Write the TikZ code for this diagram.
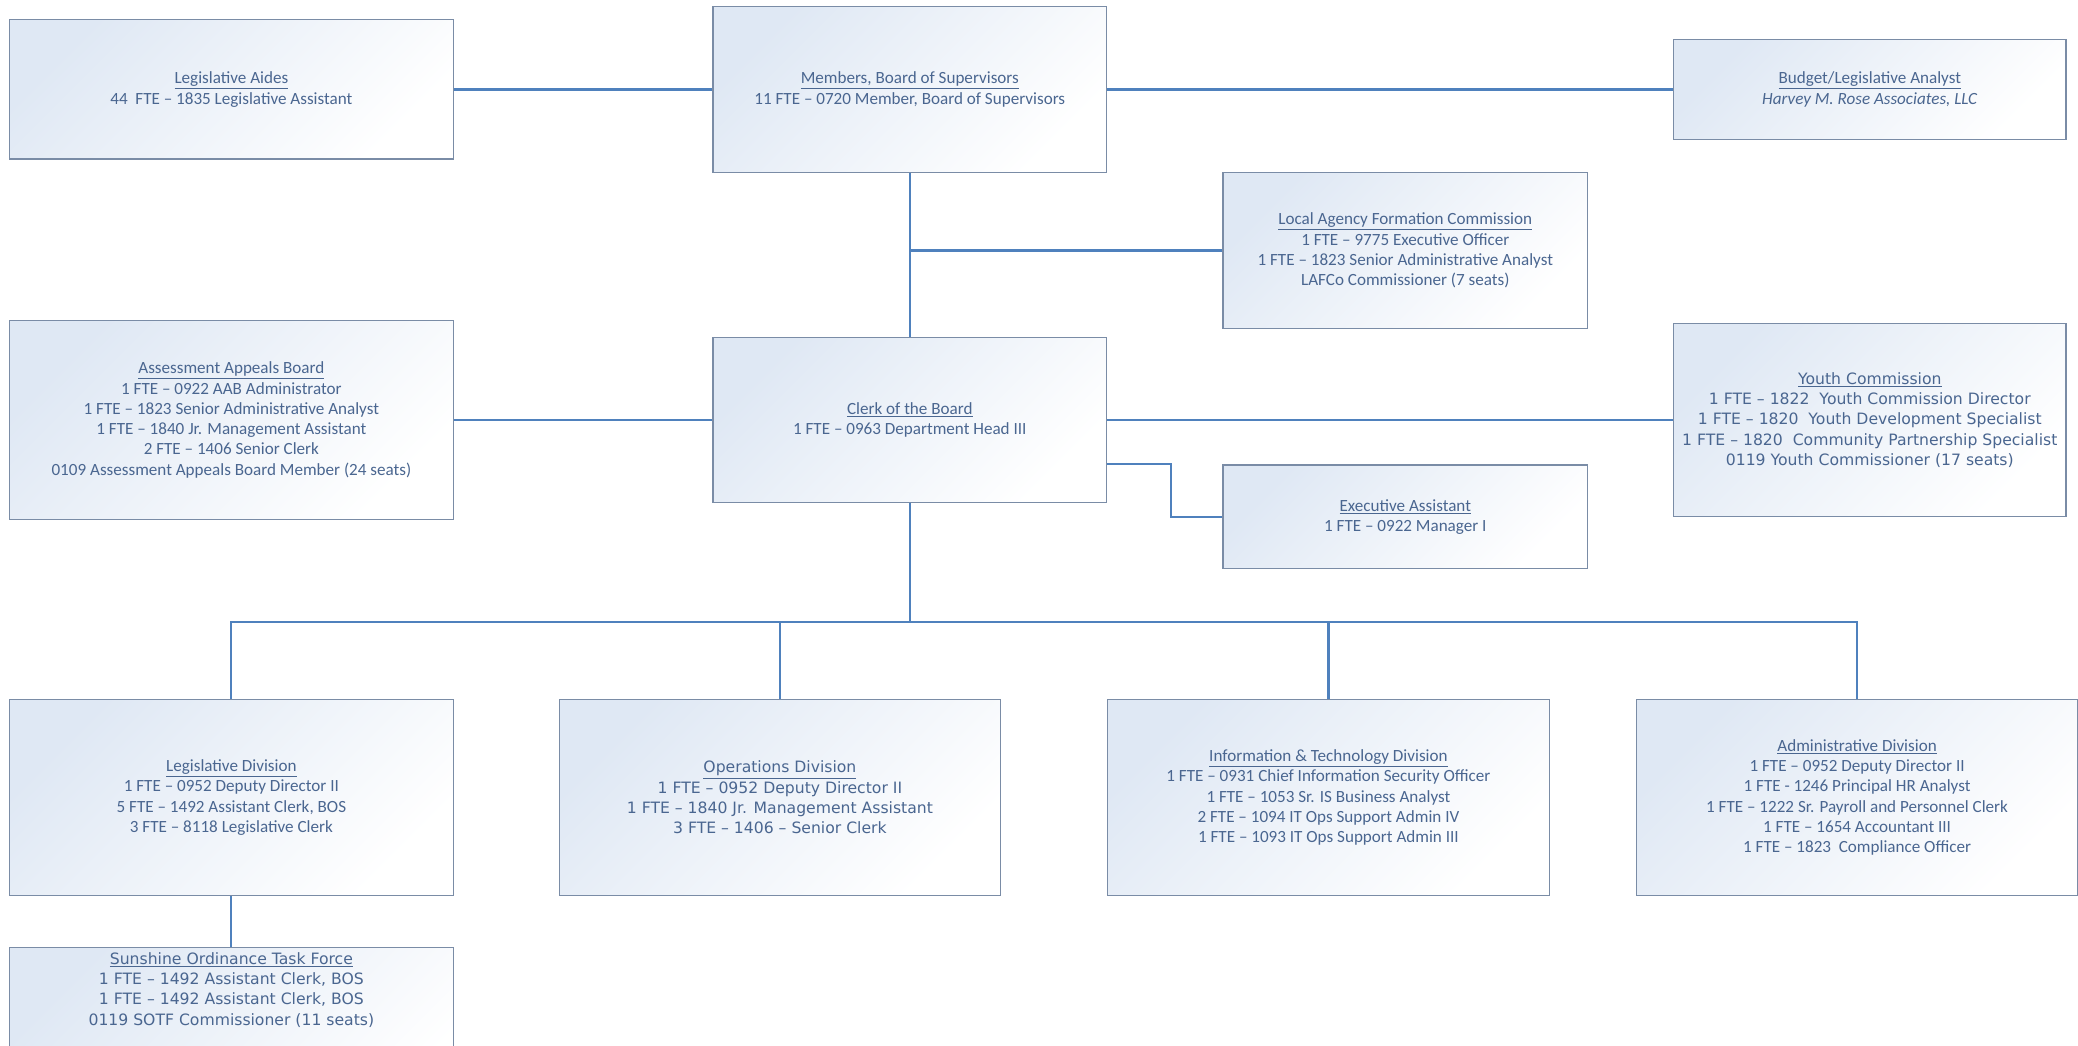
\documentclass[tikz,border=0pt]{standalone}
\usepackage{fontspec}
\setmainfont{Carlito}
\newfontfamily\verdfont{DejaVu Sans}
\usepackage{xcolor}
\usetikzlibrary{positioning}
\definecolor{boxfill}{HTML}{DFE8F4}
\definecolor{boxline}{HTML}{7A8CA6}
\definecolor{linkblue}{HTML}{4F81BD}
\definecolor{orgtext}{HTML}{4A6690}
\newcommand{\orghead}[1]{\underline{#1}}

\begin{document}
\begin{tikzpicture}[
    x=1pt, y=-1pt,
    box/.style={draw=boxline, line width=0.9pt, top color=boxfill, bottom color=white, shading angle=45,
        align=center, text=orgtext, font=\fontsize{12.9}{15.3}\selectfont, inner sep=3pt},
    wide/.style={font=\verdfont\fontsize{11.8}{15.3}\selectfont},
    link/.style={draw=linkblue, line width=1.6pt}]
\clip (0,0) rectangle (1568,789);
% top row
\node[box, minimum width=297, minimum height=125] (members) at (686.5,67.5) {\orghead{Members, Board of Supervisors}\\11 FTE – 0720 Member, Board of Supervisors};
\node[box, minimum width=335, minimum height=105, left=195pt of members] (aides) {\orghead{Legislative Aides}\\44~ FTE – 1835 Legislative Assistant};
\node[box, minimum width=296, minimum height=75, right=427pt of members] (budget) {\orghead{Budget/Legislative Analyst}\\\textit{Harvey M. Rose Associates, LLC}};
% middle row
\node[box, minimum width=297, minimum height=124, below=124pt of members] (clerk) {\orghead{Clerk of the Board}\\1 FTE – 0963 Department Head III};
\node[box, minimum width=275, minimum height=118, above right=6pt and 87pt of clerk] (lafco) {\orghead{Local Agency Formation Commission}\\1 FTE – 9775 Executive Officer\\1 FTE – 1823 Senior Administrative Analyst\\LAFCo Commissioner (7 seats)};
\node[box, minimum width=275, minimum height=78, below=102pt of lafco] (exec) {\orghead{Executive Assistant}\\1 FTE – 0922 Manager I};
\node[box, minimum width=335, minimum height=150, left=195pt of clerk] (aab) {\orghead{Assessment Appeals Board}\\1 FTE – 0922 AAB Administrator\\1 FTE – 1823 Senior Administrative Analyst\\1 FTE – 1840 Jr. Management Assistant\\2 FTE – 1406 Senior Clerk\\0109 Assessment Appeals Board Member (24 seats)};
\node[box, wide, minimum width=296, minimum height=146, right=427pt of clerk] (youth) {\orghead{Youth Commission}\\1 FTE – 1822~ Youth Commission Director\\1 FTE – 1820~ Youth Development Specialist\\1 FTE – 1820~ Community Partnership Specialist\\0119 Youth Commissioner (17 seats)};
% divisions
\node[box, minimum width=335, minimum height=148, below=135pt of aab] (legdiv) {\orghead{Legislative Division}\\1 FTE – 0952 Deputy Director II\\5 FTE – 1492 Assistant Clerk, BOS\\3 FTE – 8118 Legislative Clerk};
\node[box, wide, minimum width=333, minimum height=148, right=79pt of legdiv] (ops) {\orghead{Operations Division}\\1 FTE – 0952 Deputy Director II\\1 FTE – 1840 Jr. Management Assistant\\3 FTE – 1406 – Senior Clerk};
\node[box, minimum width=333, minimum height=148, right=80pt of ops] (itdiv) {\orghead{Information \& Technology Division}\\1 FTE – 0931 Chief Information Security Officer\\1 FTE – 1053 Sr. IS Business Analyst\\2 FTE – 1094 IT Ops Support Admin IV\\1 FTE – 1093 IT Ops Support Admin III};
\node[box, minimum width=333, minimum height=148, right=65pt of itdiv] (admin) {\orghead{Administrative Division}\\1 FTE – 0952 Deputy Director II\\1 FTE - 1246 Principal HR Analyst\\1 FTE – 1222 Sr. Payroll and Personnel Clerk\\1 FTE – 1654 Accountant III\\1 FTE – 1823~ Compliance Officer};
\node[box, wide, minimum width=335, inner ysep=4pt, below=38pt of legdiv] (sotf) {\orghead{Sunshine Ordinance Task Force}\\1 FTE – 1492 Assistant Clerk, BOS\\1 FTE – 1492 Assistant Clerk, BOS\\0119 SOTF Commissioner (11 seats)\\\rule{0pt}{70pt}};
% connectors
\coordinate[below=90pt of clerk] (bus);
\draw[link] (aides.east) -- (members.west);
\draw[link] (members.east) -- (budget.west);
\draw[link] (members.south) -- (clerk.north);
\draw[link] (lafco.west) -- (lafco.west -| members.south);
\draw[link] (aab.east) -- (aab.east -| clerk.west);
\draw[link] (clerk.east |- youth.west) -- (youth.west);
\draw[link] ([yshift=-33pt]clerk.east) -| ([xshift=-39pt]exec.west) |- (exec.west);
\draw[link] (clerk.south) -- (bus);
\draw[link] (legdiv.north) |- (bus) -| (admin.north);
\draw[link] (ops.north) -- (ops.north |- bus);
\draw[link] (itdiv.north) -- (itdiv.north |- bus);
\draw[link] (legdiv.south) -- (sotf.north);
\end{tikzpicture}
\end{document}
